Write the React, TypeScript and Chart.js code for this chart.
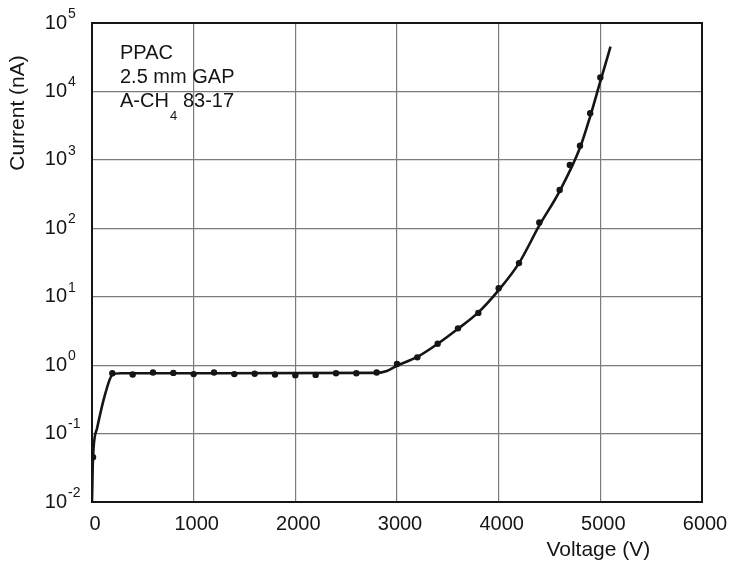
import React, { useEffect, useRef } from "react";
import { Chart, registerables } from "chart.js";

Chart.register(...registerables);

// Measured points (voltage in V, current in nA)
const MEAS_V = [10, 200, 400, 600, 800, 1000, 1200, 1400, 1600, 1800, 2000, 2200, 2400, 2600, 2800, 3000, 3200, 3400, 3600, 3800, 4000, 4200, 4400, 4600, 4700, 4800, 4900, 5000];
const MEAS_I = [0.045, 0.76, 0.73, 0.78, 0.77, 0.74, 0.78, 0.74, 0.75, 0.73, 0.71, 0.72, 0.76, 0.76, 0.78, 1.04, 1.3, 2.05, 3.45, 5.8, 13.3, 31, 122, 362, 840, 1610, 4800, 16000];

// Fitted curve
const FIT_V = [0, 10, 50, 130, 200, 280, 2800, 2900, 3000, 3200, 3400, 3600, 3800, 4000, 4200, 4400, 4600, 4800, 4900, 5000, 5100];
const FIT_I = [0.01, 0.045, 0.12, 0.38, 0.72, 0.76, 0.77, 0.82, 0.98, 1.32, 2.05, 3.4, 5.9, 12.5, 31, 110, 350, 1500, 4300, 14000, 45000];

const X_TICKS = [0, 1000, 2000, 3000, 4000, 5000, 6000];
const Y_EXPONENTS = [-2, -1, 0, 1, 2, 3, 4, 5];

const X_TITLE = "Voltage (V)";
const Y_TITLE = "Current (nA)";
const NOTE_LINES = ["PPAC", "2.5 mm GAP"];
const NOTE_GAS = ["A-CH", "4", "83-17"];

const FONT = '"Liberation Sans", Arial, Helvetica, sans-serif';
const INK = "#151515";

const drawPlugin = {
  id: "customDraw",
  beforeDraw(chart: any) {
    const ctx = chart.ctx;
    ctx.save();
    ctx.fillStyle = "#ffffff";
    ctx.fillRect(0, 0, chart.width, chart.height);
    ctx.restore();
  },
  beforeDatasetsDraw(chart: any) {
    const { ctx, chartArea } = chart;
    ctx.save();
    ctx.strokeStyle = INK;
    ctx.lineWidth = 2;
    ctx.strokeRect(chartArea.left, chartArea.top, chartArea.right - chartArea.left, chartArea.bottom - chartArea.top);
    ctx.restore();
  },
  afterDraw(chart: any) {
    const { ctx, scales, chartArea } = chart;
    const xs = scales.x;
    const ys = scales.y;
    ctx.save();
    ctx.fillStyle = INK;
    // y tick labels with superscript exponent
    Y_EXPONENTS.forEach((e) => {
      const y = ys.getPixelForValue(Math.pow(10, e));
      ctx.font = `20px ${FONT}`;
      ctx.textAlign = "right";
      ctx.textBaseline = "middle";
      ctx.fillText("10", chartArea.left - 25, y);
      ctx.font = `14px ${FONT}`;
      ctx.textAlign = "left";
      ctx.fillText(String(e), chartArea.left - 24, y - 9);
    });
    // x tick labels
    ctx.font = `20px ${FONT}`;
    ctx.textAlign = "center";
    ctx.textBaseline = "middle";
    X_TICKS.forEach((v) => {
      const x = xs.getPixelForValue(v);
      ctx.fillText(String(v), x + 3, chartArea.bottom + 22);
    });
    // x title
    ctx.font = `21px ${FONT}`;
    ctx.fillText(X_TITLE, xs.getPixelForValue(5000) - 2, chartArea.bottom + 48);
    // y title
    ctx.save();
    ctx.translate(18, 113);
    ctx.rotate(-Math.PI / 2);
    ctx.font = `21px ${FONT}`;
    ctx.textAlign = "center";
    ctx.textBaseline = "middle";
    ctx.fillText(Y_TITLE, 0, 0);
    ctx.restore();
    // annotation
    const nx = chartArea.left + 28;
    ctx.font = `20px ${FONT}`;
    ctx.textAlign = "left";
    ctx.textBaseline = "middle";
    NOTE_LINES.forEach((t, i) => ctx.fillText(t, nx, 53 + i * 24));
    ctx.fillText(NOTE_GAS[0], nx, 101);
    const w = ctx.measureText(NOTE_GAS[0]).width;
    ctx.font = `13px ${FONT}`;
    ctx.fillText(NOTE_GAS[1], nx + w + 1, 116);
    ctx.font = `20px ${FONT}`;
    ctx.fillText(NOTE_GAS[2], nx + w + 14, 101);
    ctx.restore();
  },
};

export default function App() {
  const ref = useRef<HTMLCanvasElement | null>(null);
  useEffect(() => {
    if (!ref.current) return;
    const fit = FIT_V.map((v, i) => ({ x: v, y: FIT_I[i] }));
    const meas = MEAS_V.map((v, i) => ({ x: v, y: MEAS_I[i] }));
    const chart = new Chart(ref.current, {
      type: "scatter",
      data: {
        datasets: [
          {
            data: fit,
            showLine: true,
            borderColor: INK,
            borderWidth: 2.6,
            pointRadius: 0,
            cubicInterpolationMode: "monotone",
            order: 2,
          } as any,
          {
            data: meas,
            showLine: false,
            pointRadius: 3.2,
            pointBackgroundColor: INK,
            pointBorderColor: INK,
            pointBorderWidth: 0,
            order: 1,
          } as any,
        ],
      },
      options: {
        animation: false,
        responsive: false,
        devicePixelRatio: 1,
        layout: { padding: { left: 92, top: 23, right: 31, bottom: 62 } },
        plugins: { legend: { display: false }, tooltip: { enabled: false } },
        scales: {
          x: {
            type: "linear",
            min: 0,
            max: 6000,
            ticks: { display: false, stepSize: 1000 },
            grid: { color: "#7c7c7c", lineWidth: 1.2, drawTicks: false },
            border: { display: false },
          },
          y: {
            type: "logarithmic",
            min: 0.01,
            max: 100000,
            ticks: { display: false },
            afterBuildTicks: (axis: any) => {
              axis.ticks = Y_EXPONENTS.map((e) => ({ value: Math.pow(10, e) }));
            },
            grid: { color: "#7c7c7c", lineWidth: 1.2, drawTicks: false },
            border: { display: false },
          },
        },
      },
      plugins: [drawPlugin],
    });
    return () => chart.destroy();
  }, []);
  return (
    <div style={{ position: "absolute", left: 0, top: 0, width: 733, height: 564 }}>
      <canvas ref={ref} width={733} height={564} style={{ width: 733, height: 564 }} />
    </div>
  );
}
